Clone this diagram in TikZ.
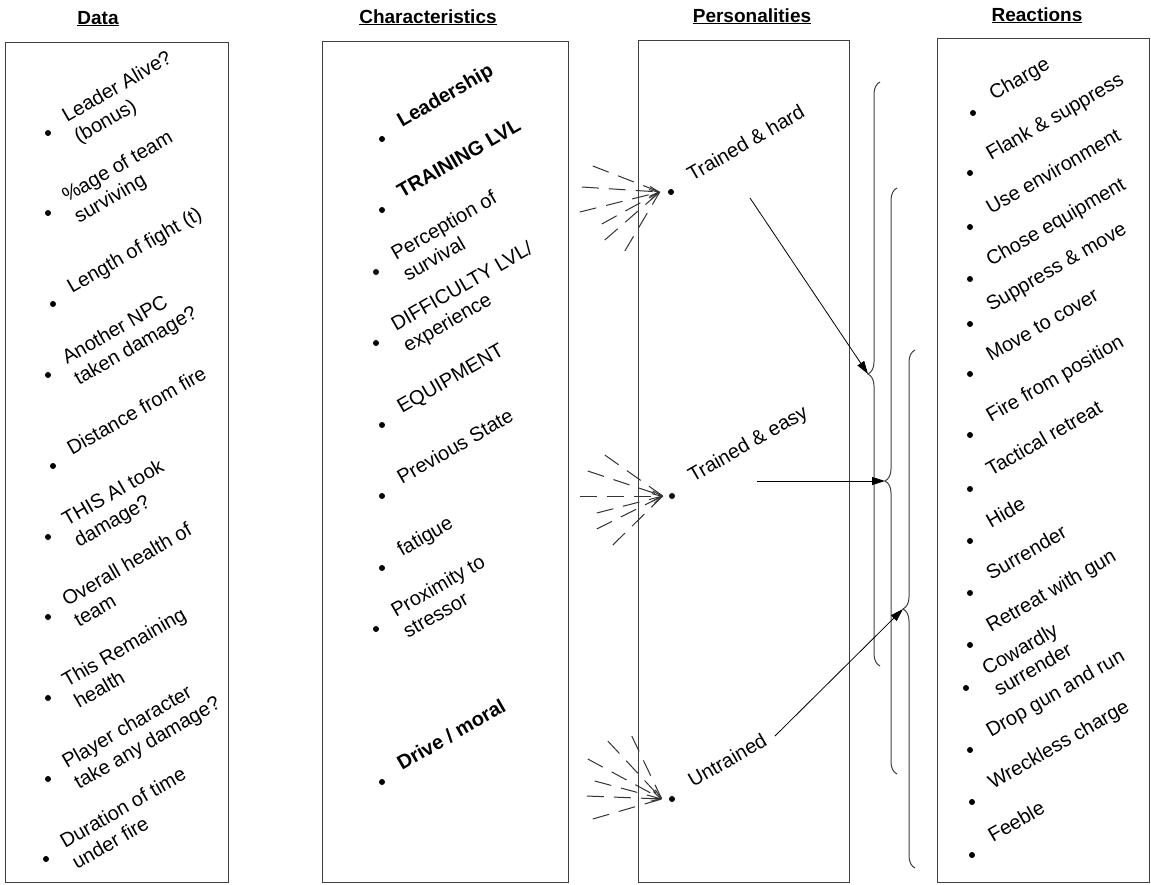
\documentclass[tikz,border=0pt]{standalone}
\usepackage{fontspec}
\setmainfont{Liberation Sans}
\usetikzlibrary{arrows.meta, decorations.pathreplacing, positioning}

\newcommand{\itemlines}[1]{\begin{tabular}[t]{@{}l@{}}#1\end{tabular}}

\begin{document}
\begin{tikzpicture}[
    x=1pt, y=-1pt,
    box/.style={rectangle, draw=black!75, line width=1.1pt, inner sep=0pt, anchor=north west},
    head/.style={anchor=base, font=\fontsize{19}{23}\selectfont\bfseries},
    dot/.style={circle, fill=black, inner sep=0pt, minimum size=6pt},
    item/.style={rotate=30, anchor=base west, inner sep=0pt, font=\fontsize{20}{24}\selectfont},
    spray/.style={dash pattern=on 17pt off 10pt, line width=1pt, draw=black!80},
    sprayhead/.style={spray, -{Straight Barb[length=9pt, width=10pt]}},
    curly/.style={decorate, decoration={brace, amplitude=12pt}, line width=1pt, draw=black!75},
    arrow/.style={-{Triangle[length=13pt, width=8pt]}, line width=0.8pt}
]
    \useasboundingbox (0,0) rectangle (1151,884);

    \node[box, minimum width=223pt, minimum height=840pt] (databox) at (5,42) {};
    \node[box, minimum width=246pt, minimum height=841pt] (charbox) at (322,41) {};
    \node[box, minimum width=211pt, minimum height=842pt] (perbox) at (638,40) {};
    \node[box, minimum width=212pt, minimum height=844pt] (reactbox) at (937,38) {};

    \node[head] (hdata) at (98,24) {\underline{Data}};
    \node[head] (hchar) at (428,23) {\underline{Characteristics}};
    \node[head] (hper) at (752,22) {\underline{Personalities}};
    \node[head] (hreact) at (1037,21) {\underline{Reactions}};

    \foreach \x/\y/\t [count=\i] in {
        48/133/{Leader Alive?\\(bonus)},
        48/213/{\%age of team\\surviving},
        53/304/{Length of fight (t)},
        48/375/{Another NPC\\taken damage?},
        53/466/{Distance from fire},
        48/537/{THIS AI took\\damage?},
        48/617/{Overall health of\\team},
        48/698/{This Remaining\\health},
        48/779/{Player character\\take any damage?},
        46/859/{Duration of time\\under fire}}
    {
        \node[dot] (data\i) at (\x,\y) {};
        \node[item] (datatxt\i) at ([shift={(19,-10)}]data\i.center) {\itemlines{\t}};
    }

    \foreach \x/\y/\t [count=\i] in {
        382/139/{\textbf{Leadership}},
        382/210/{\textbf{TRAINING LVL}},
        376/272/{Perception of\\survival},
        376/343/{DIFFICULTY LVL/\\experience},
        382/425/{EQUIPMENT},
        382/496/{Previous State},
        382/568/{fatigue},
        376/629/{Proximity to\\stressor},
        382/782/{\textbf{Drive / moral}}}
    {
        \node[dot] (char\i) at (\x,\y) {};
        \node[item] (chartxt\i) at ([shift={(20,-11)}]char\i.center) {\itemlines{\t}};
    }

    \foreach \x/\y/\t [count=\i] in {
        973/113/{Charge},
        970/173/{Flank \& suppress},
        970/227/{Use environment},
        970/279/{Chose equipment},
        970/324/{Suppress \& move},
        970/374/{Move to cover},
        970/435/{Fire from position},
        970/489/{Tactical retreat},
        970/541/{Hide},
        970/593/{Surrender},
        970/645/{Retreat with gun},
        966/688/{Cowardly\\surrender},
        970/750/{Drop gun and run},
        972/802/{Wreckless charge},
        972/855/{Feeble}}
    {
        \node[dot] (react\i) at (\x,\y) {};
        \node[item] (reacttxt\i) at ([shift={(21,-12)}]react\i.center) {\itemlines{\t}};
    }

    \node[dot] (hard) at (671,192) {};
    \node[item] (hardtxt) at ([shift={(21,-10)}]hard.center) {Trained \& hard};
    \node[dot] (easy) at (672,496) {};
    \node[item] (easytxt) at ([shift={(21,-13)}]easy.center) {Trained \& easy};
    \node[dot] (untr) at (672,799) {};
    \node[item] (untrtxt) at ([shift={(21,-11)}]untr.center) {Untrained};

    \coordinate[left=8pt of hard] (hardin);
    \coordinate[left=6pt of easy] (easyin);
    \coordinate[left=7pt of untr] (untrin);

    \foreach \dx/\dy/\s in {-67/-26/spray, -78/-5/sprayhead, -80/20/sprayhead,
        -58/32/spray, -55/48/spray, -35/59/spray}
        \draw[\s] (hardin) ++(\dx,\dy) -- (hardin);
    \foreach \dx/\dy/\s in {-58/-41/spray, -75/-25/spray, -83/0/sprayhead,
        -66/17/sprayhead, -66/33/spray, -50/49/spray}
        \draw[\s] (easyin) ++(\dx,\dy) -- (easyin);
    \foreach \dx/\dy/\s in {-30/-63/spray, -54/-58/spray, -74/-40/sprayhead,
        -67/-18/sprayhead, -75/-3/spray, -69/20/spray}
        \draw[\s] (untrin) ++(\dx,\dy) -- (untrin);

    \coordinate (tipA) at (868,374);
    \coordinate (tipB) at (885,481);
    \coordinate (tipC) at (903,609);
    \draw[curly] (880,666) -- (880,82);
    \draw[curly] (897,774) -- (897,188);
    \draw[curly] (915,868) -- (915,350);

    \coordinate (hardout) at (750,198);
    \coordinate (easyout) at (757,481);
    \coordinate (untrout) at (775,736);
    \draw[arrow] (hardout) -- (tipA);
    \draw[arrow] (easyout) -- (tipB);
    \draw[arrow] (untrout) -- (tipC);
\end{tikzpicture}
\end{document}
